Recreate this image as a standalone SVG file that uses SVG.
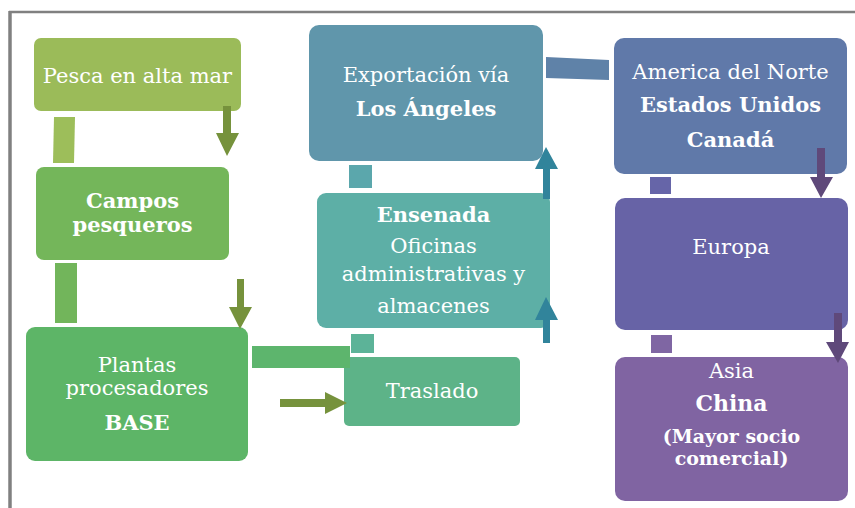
<svg xmlns="http://www.w3.org/2000/svg" width="855" height="508" viewBox="0 0 855 508">
<defs>
<style>
.t{font-family:"DejaVu Serif","Liberation Serif",serif;font-size:21px;fill:#ffffff;text-anchor:middle}
.b{font-weight:bold}
.ga{fill:#76923C}
.ba{fill:#31849B}
.pa{fill:#5F497A}
</style>
</defs>
<rect width="855" height="508" fill="#ffffff"/>
<g id="frame">
<line x1="9" y1="12" x2="855" y2="12" stroke="#808080" stroke-width="2.5"/>
<line x1="10" y1="11" x2="10" y2="508" stroke="#808080" stroke-width="3.5"/>
</g>
<g id="n1">
<rect x="34" y="38" width="207" height="73" rx="7" fill="#9BBB59"/>
<text class="t" x="137.5" y="83">Pesca en alta mar</text>
</g>
<g id="n2">
<rect x="36" y="167" width="193" height="93" rx="8" fill="#74B65A"/>
<text class="t b" x="132.5" y="208">Campos</text>
<text class="t b" x="132.5" y="232">pesqueros</text>
</g>
<g id="n3">
<rect x="26" y="327" width="222" height="134" rx="9" fill="#5DB567"/>
<text class="t" x="137" y="372">Plantas</text>
<text class="t" x="137" y="395">procesadores</text>
<text class="t b" x="137" y="430">BASE</text>
</g>
<g id="n4">
<rect x="344" y="357" width="176" height="69" rx="5" fill="#5DB388"/>
<text class="t" x="432" y="398">Traslado</text>
</g>
<g id="n5">
<rect x="309" y="25" width="234" height="136" rx="10" fill="#6096AB"/>
<text class="t" x="426" y="82">Exportación vía</text>
<text class="t b" x="426" y="116">Los Ángeles</text>
</g>
<g id="n6">
<rect x="317" y="193" width="233" height="135" rx="9" fill="#5DAFA6"/>
<text class="t b" x="433.5" y="222">Ensenada</text>
<text class="t" x="433.5" y="253">Oficinas</text>
<text class="t" x="433.5" y="281">administrativas y</text>
<text class="t" x="433.5" y="313">almacenes</text>
</g>
<g id="n7">
<rect x="614" y="38" width="233" height="136" rx="10" fill="#6079A9"/>
<text class="t" x="730.5" y="79">America del Norte</text>
<text class="t b" x="730.5" y="112">Estados Unidos</text>
<text class="t b" x="730.5" y="147">Canadá</text>
</g>
<g id="n8">
<rect x="615" y="198" width="233" height="132" rx="10" fill="#6763A6"/>
<text class="t" x="731" y="254">Europa</text>
</g>
<g id="n9">
<rect x="615" y="357" width="233" height="144" rx="10" fill="#8064A2"/>
<text class="t" x="731.5" y="378">Asia</text>
<text class="t b" x="731.5" y="411" style="font-size:22px">China</text>
<text class="t b" x="731.5" y="443" style="font-size:19px">(Mayor socio</text>
<text class="t b" x="731.5" y="465" style="font-size:19px">comercial)</text>
</g>
<g id="connectors">
<polygon points="54,117 75,117 74,163 53,163" fill="#9DBE5A"/>
<rect x="55" y="263" width="22" height="60" fill="#72B55B"/>
<rect x="252" y="346" width="98" height="22" fill="#5DB56D"/>
<rect x="351" y="334" width="23" height="19" fill="#5CB398"/>
<rect x="349" y="165" width="23" height="23" fill="#5BA7AC"/>
<polygon points="546,57 609,60 609,80 546,78" fill="#5F82A8"/>
<rect x="650" y="177" width="21" height="17" fill="#6665A8"/>
<rect x="651" y="335" width="21" height="18" fill="#7F66A3"/>
<polygon class="ga" points="223,106 231,106 231,133 239,133 227,156 216,133 223,133"/>
<polygon class="ga" points="237,279 244,279 244,307 252,307 240,329 229,307 237,307"/>
<polygon class="ga" points="280,399 325,399 325,392 347,403 325,414 325,407 280,407"/>
<polygon class="ba" points="543,199 550,199 550,169 558,169 546,147 535,169 543,169"/>
<polygon class="ba" points="543,343 550,343 550,320 558,320 546,297 535,320 543,320"/>
<polygon class="pa" points="817,148 825,148 825,177 833,177 821,198 810,177 817,177"/>
<polygon class="pa" points="834,313 842,313 842,342 849,342 838,363 826,342 834,342"/>
</g>
</svg>
